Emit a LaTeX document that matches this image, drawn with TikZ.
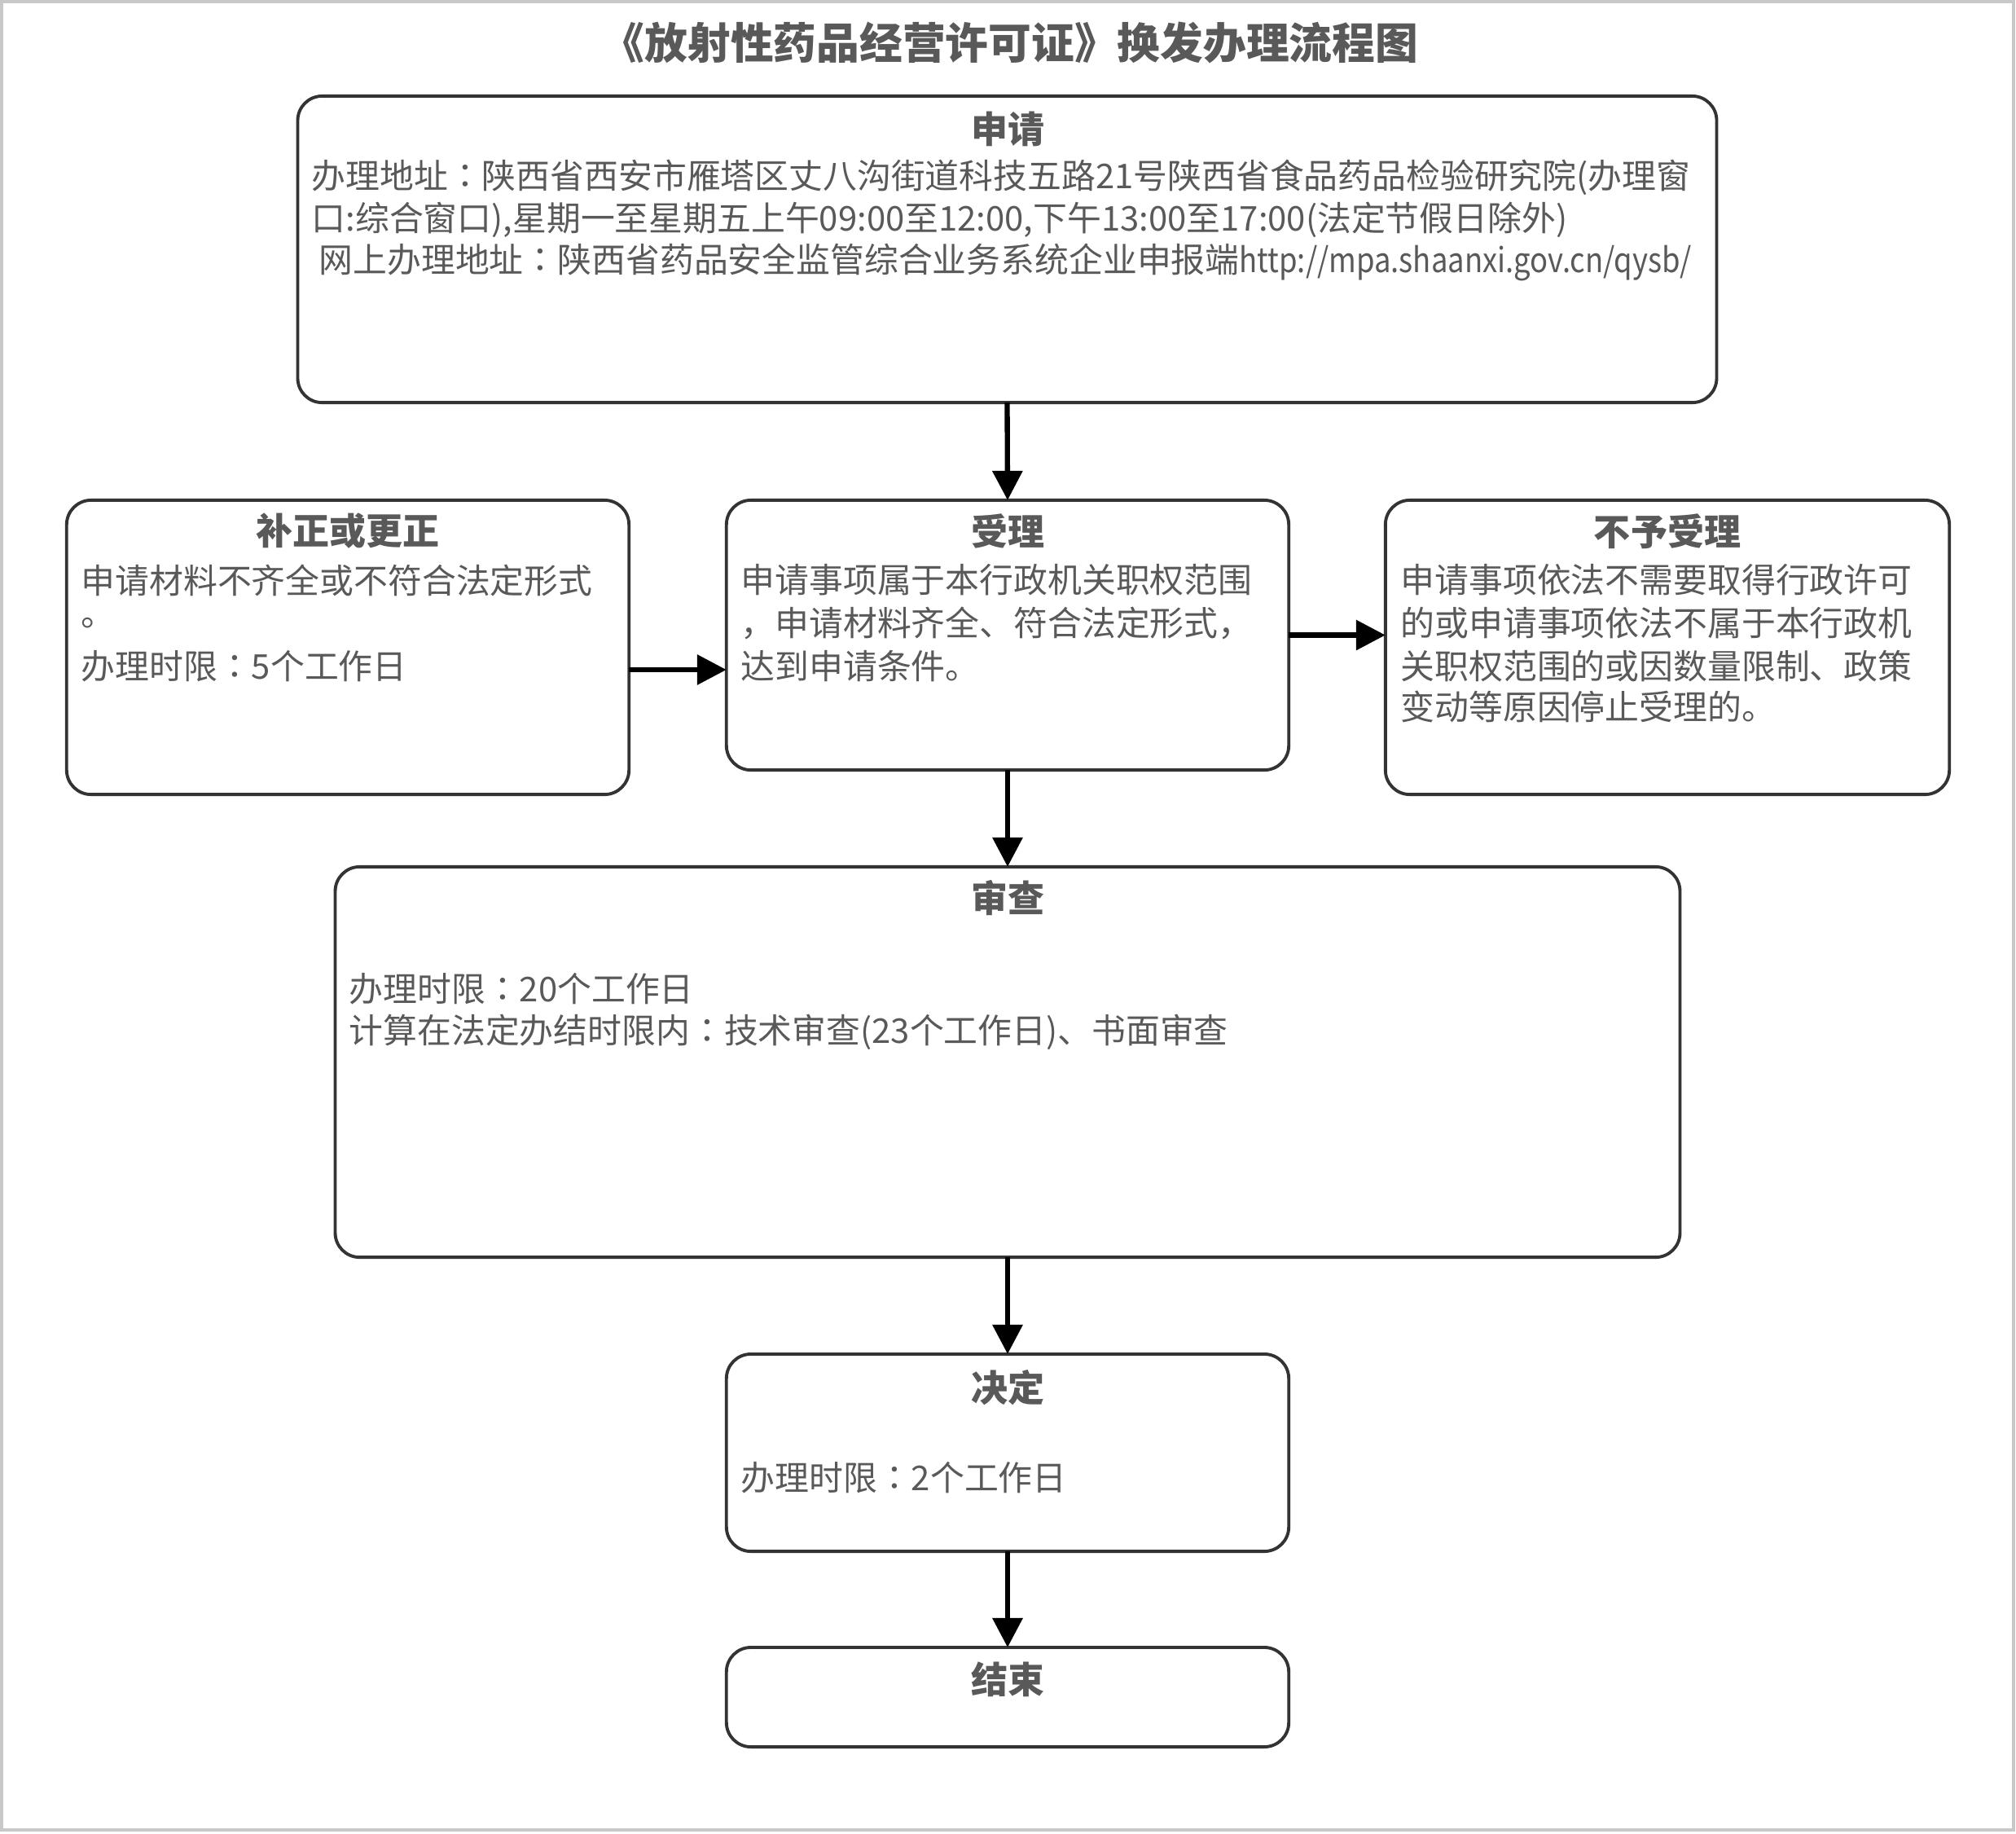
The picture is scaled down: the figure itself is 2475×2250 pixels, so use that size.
\documentclass[tikz,border=0pt]{standalone}
\usepackage{fontspec}
\setmainfont{Noto Sans CJK SC}
\newfontfamily\jpfont{Noto Sans CJK JP}
\newcommand\jcolon{{\jpfont ：}}
\usetikzlibrary{arrows.meta}
\definecolor{txt}{HTML}{595959}
\definecolor{edge}{HTML}{333333}
\definecolor{frame}{HTML}{C8C8C8}
\begin{document}
\begin{tikzpicture}[x=0.01cm,y=-0.01cm,
 box/.style={draw=edge, line width=1.1pt, rounded corners=0.3cm, fill=white, inner sep=0pt, outer sep=0pt},
 body/.style={anchor=west, inner sep=0pt, text=txt, font=\fontsize{11.9pt}{14pt}\selectfont},
 head/.style={anchor=center, inner sep=0pt, text=txt, font=\bfseries\fontsize{12.8pt}{15pt}\selectfont},
 ttlstyle/.style={anchor=center, inner sep=0pt, text=txt, font=\bfseries\fontsize{15pt}{18pt}\selectfont},
 flow/.style={-{Triangle[width=0.36cm,length=0.36cm]}, line width=1.8pt, black}
]
\useasboundingbox (0,0) rectangle (2475,2250);
\draw[frame, line width=1.2pt] (2,2) rectangle (2472,2246);

\node[ttlstyle] (ttl) at (1240,52) {《放射性药品经营许可证》换发办理流程图};

% boxes
\node[box, minimum width=17.41cm, minimum height=3.76cm] (sq) at (1236.5,306) {};
\node[box, minimum width=6.90cm, minimum height=3.61cm] (bz) at (427,794.5) {};
\node[box, minimum width=6.90cm, minimum height=3.31cm] (sl) at (1237,779.5) {};
\node[box, minimum width=6.92cm, minimum height=3.61cm] (by) at (2047,794.5) {};
\node[box, minimum width=16.50cm, minimum height=4.79cm] (sc) at (1237,1303.5) {};
\node[box, minimum width=6.90cm, minimum height=2.42cm] (jd) at (1237,1783) {};
\node[box, minimum width=6.90cm, minimum height=1.22cm] (js) at (1237,2083) {};

% 申请
\node[head] (sqh) at (1237,158) {申请};
\node[body] (sq1) at (382,218) {办理地址\jcolon 陕西省西安市雁塔区丈八沟街道科技五路21号陕西省食品药品检验研究院(办理窗};
\node[body] (sq2) at (382,270) {口:综合窗口),星期一至星期五上午09:00至12:00,下午13:00至17:00(法定节假日除外)};
\node[body] (sq3) at (391,322) {网上办理地址\jcolon 陕西省药品安全监管综合业务系统企业申报端\scalebox{0.87}[1]{http://mpa.shaanxi.gov.cn/qysb/}};

% 补正或更正
\node[head] (bzh) at (427,652) {补正或更正};
\node[body] (bz1) at (99,712) {申请材料不齐全或不符合法定形式};
\node[body] (bz2) at (99,765) {。};
\node[body] (bz3) at (99,818) {办理时限\jcolon 5个工作日};

% 受理
\node[head] (slh) at (1237,652) {受理};
\node[body] (sl1) at (909,712) {申请事项属于本行政机关职权范围};
\node[body] (sl2) at (909,765) {，申请材料齐全、符合法定形式，};
\node[body] (sl3) at (909,818) {达到申请条件。};

% 不予受理
\node[head] (byh) at (2047,652) {不予受理};
\node[body] (by1) at (1719,712) {申请事项依法不需要取得行政许可};
\node[body] (by2) at (1719,765) {的或申请事项依法不属于本行政机};
\node[body] (by3) at (1719,818) {关职权范围的或因数量限制、政策};
\node[body] (by4) at (1719,867) {变动等原因停止受理的。};

% 审查
\node[head] (sch) at (1237,1102) {审查};
\node[body] (sc1) at (428,1214) {办理时限\jcolon 20个工作日};
\node[body] (sc2) at (428,1267) {计算在法定办结时限内\jcolon 技术审查(23个工作日)、书面审查};

% 决定
\node[head] (jdh) at (1237,1703) {决定};
\node[body] (jd1) at (909,1814) {办理时限\jcolon 2个工作日};

% 结束
\node[head] (jsh) at (1237,2061) {结束};

% connectors
\coordinate (ly) at (0,822);
\draw[flow] (sq.south) -- (sl.north);
\draw[flow] (sl.south) -- (sc.north);
\draw[flow] (sc.south) -- (jd.north);
\draw[flow] (jd.south) -- (js.north);
\draw[flow] (bz.east |- ly) -- (sl.west |- ly);
\draw[flow] (sl.east) -- (by.west |- sl.east);
\end{tikzpicture}
\end{document}
